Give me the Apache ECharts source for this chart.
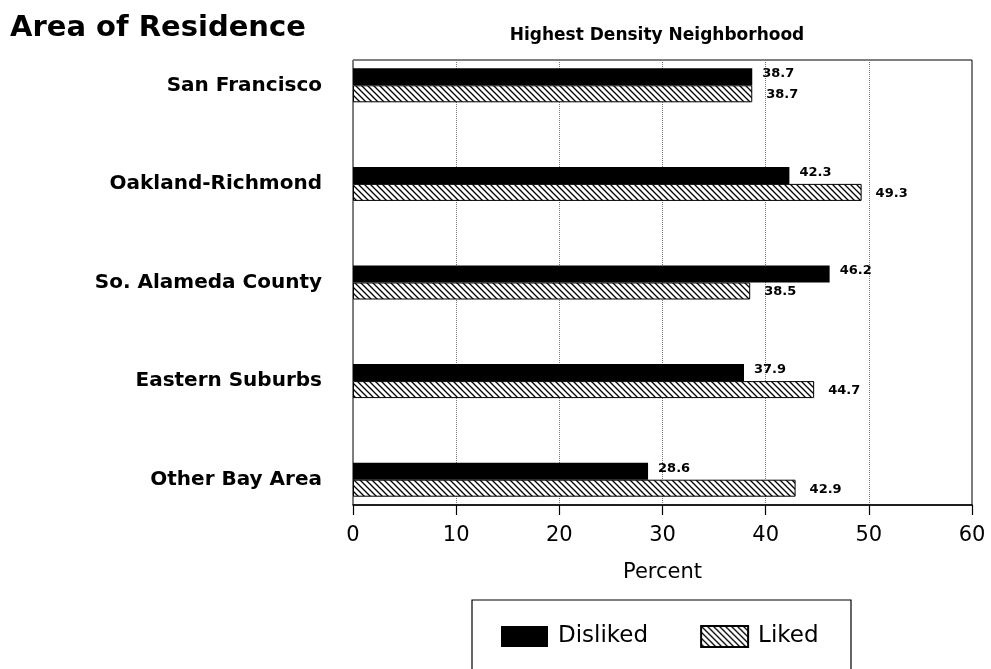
<!DOCTYPE html>
<html>
<head>
<meta charset="utf-8">
<script src="https://cdn.jsdelivr.net/npm/echarts@6/dist/echarts.min.js"></script>
<style>
  html, body { margin: 0; padding: 0; background: #fff; }
  #chart { width: 991px; height: 669px; }
</style>
</head>
<body>
<div id="chart"></div>
<script>
const areas = ['San Francisco', 'Oakland-Richmond', 'So. Alameda County', 'Eastern Suburbs', 'Other Bay Area'];
const disliked = [38.7, 42.3, 46.2, 37.9, 28.6];
const liked = [38.7, 49.3, 38.5, 44.7, 42.9];
const xTicks = [0, 10, 20, 30, 40, 50, 60];

// diagonal hatch fill
function hatch() {
  const s = 6;
  const c = document.createElement('canvas');
  c.width = s;
  c.height = s;
  const ctx = c.getContext('2d');
  ctx.fillStyle = '#fff';
  ctx.fillRect(0, 0, s, s);
  ctx.strokeStyle = '#000';
  ctx.lineWidth = 1.3;
  ctx.beginPath();
  ctx.moveTo(-1, -1); ctx.lineTo(s + 1, s + 1);
  ctx.moveTo(-1, s - 1); ctx.lineTo(1, s + 1);
  ctx.moveTo(s - 1, -1); ctx.lineTo(s + 1, 1);
  ctx.stroke();
  return { image: c, repeat: 'repeat' };
}

const font = 'DejaVu Sans';
const chart = echarts.init(document.getElementById('chart'));

const option = {
  animation: false,
  backgroundColor: '#fff',
  title: [
    {
      text: 'Area of Residence', left: 5, top: 9,
      textStyle: { fontFamily: font, fontSize: 29, fontWeight: 'bold', color: '#000' }
    },
    {
      text: 'Highest Density Neighborhood', left: 652, top: 22, textAlign: 'center',
      textStyle: { fontFamily: font, fontSize: 17, fontWeight: 'bold', color: '#000' }
    }
  ],
  legend: {
    left: 496, top: 620,
    itemWidth: 47, itemHeight: 21, itemGap: 52,
    icon: 'rect',
    data: ['Disliked', 'Liked'],
    textStyle: { fontFamily: font, fontSize: 23, color: '#000', padding: [0, 0, 0, 5] }
  },
  graphic: [
    {
      type: 'rect', shape: { x: 472, y: 600, width: 379, height: 90 },
      style: { fill: 'none', stroke: '#000', lineWidth: 1.2 }, z: -1
    }
  ],
  grid: [
    { left: 353, right: 19, top: 60, bottom: 164, show: true, borderColor: '#000', borderWidth: 1 },
    { left: 353, right: 19, top: 36, bottom: 140 }
  ],
  xAxis: [
    {
      gridIndex: 0, type: 'value', min: 0, max: 60, interval: 10,
      name: 'Percent', nameLocation: 'middle', nameGap: 57,
      nameTextStyle: { fontFamily: font, fontSize: 21, color: '#000' },
      axisLine: { show: true, lineStyle: { color: '#000', width: 1.5 } },
      axisTick: { show: true, length: 10, lineStyle: { color: '#000', width: 1.2 } },
      axisLabel: {
        margin: 20, fontFamily: font, fontSize: 21, color: '#000',
        formatter: v => (xTicks.indexOf(v) >= 0 ? String(v) : '')
      },
      splitLine: { show: true, lineStyle: { color: '#777', type: 'dotted', width: 1 } }
    },
    { gridIndex: 1, type: 'value', min: 0, max: 60, show: false }
  ],
  yAxis: [
    { gridIndex: 0, type: 'value', show: false },
    {
      gridIndex: 1, type: 'category', data: areas, inverse: true,
      axisLine: { show: false }, axisTick: { show: false },
      axisLabel: { margin: 31, fontFamily: font, fontSize: 20, fontWeight: 'bold', color: '#000' }
    }
  ],
  series: [
    {
      name: 'Disliked', type: 'bar', xAxisIndex: 1, yAxisIndex: 1,
      data: disliked, barWidth: 17, barGap: '0%',
      itemStyle: { color: '#000' },
      label: {
        show: true, position: 'right', distance: 10, offset: [0, -3],
        fontFamily: font, fontSize: 13, fontWeight: 'bold', color: '#000',
        formatter: p => p.value.toFixed(1)
      }
    },
    {
      name: 'Liked', type: 'bar', xAxisIndex: 1, yAxisIndex: 1,
      data: liked, barWidth: 17, barGap: '0%',
      itemStyle: { color: hatch(), borderColor: '#000', borderWidth: 1 },
      label: {
        show: true, position: 'right', distance: 14, offset: [0, 1],
        fontFamily: font, fontSize: 13, fontWeight: 'bold', color: '#000',
        formatter: p => p.value.toFixed(1)
      }
    }
  ]
};

chart.setOption(option);
</script>
</body>
</html>
